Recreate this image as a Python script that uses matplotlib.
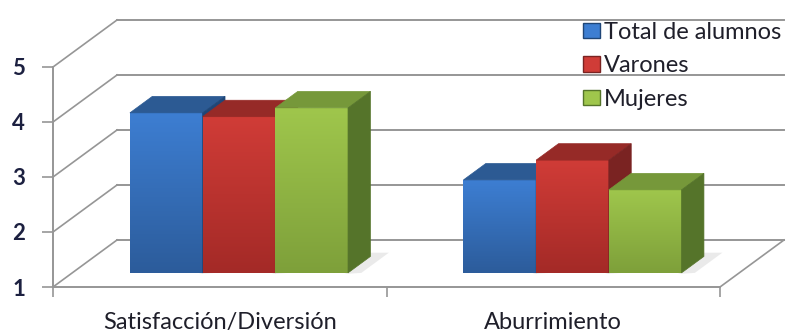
import numpy as np
import matplotlib.pyplot as plt
from matplotlib.patches import Polygon, Patch

plt.rcParams['font.family'] = ['Lato', 'DejaVu Sans']

categories = ["Satisfacción/Diversión", "Aburrimiento"]
series = ["Total de alumnos", "Varones", "Mujeres"]
total = [3.91, 2.69]
varones = [3.84, 3.05]
mujeres = [4.00, 2.51]
values = [total, varones, mujeres]
yticks = [1, 2, 3, 4, 5]

# colours: front top, front bottom, top face, side face
colors = [
    ("#3d7ed2", "#2c5c9b", "#2c5a93", "#1f4677"),
    ("#d03c37", "#a42a27", "#962a27", "#7a2322"),
    ("#9fc64c", "#7ea03a", "#76983a", "#55742a"),
]

# oblique projection: depth d in [0, 1]
DX, DY = 0.192, 0.855


def proj(x, v, d):
    return (x + DX * d, v + DY * d)


fig = plt.figure(figsize=(7.9, 3.33), dpi=100)
ax = fig.add_axes([0, 0, 1, 1])
ax.set_facecolor("white")

grid_c = "#969696"
# back wall and left wall gridlines
for v in yticks:
    p0 = proj(0, v, 1)
    p1 = proj(2, v, 1)
    ax.plot([p0[0], p1[0]], [p0[1], p1[1]], color=grid_c, lw=1.4, zorder=1)
    q0 = proj(0, v, 0)
    ax.plot([q0[0], p0[0]], [q0[1], p0[1]], color=grid_c, lw=1.2, zorder=1)
# floor right edge
r0 = proj(2, 1, 0)
r1 = proj(2, 1, 1)
ax.plot([r0[0], r1[0]], [r0[1], r1[1]], color=grid_c, lw=1.2, zorder=1)

w = 0.218
d0, d1 = 0.30, 0.65
z = 3
for ci in range(len(categories)):
    for si in range(len(series)):
        val = values[si][ci]
        x0 = ci + 0.5 - 1.5 * w + si * w
        ftop, fbot, ctop, cside = colors[si]
        # soft shadow on floor
        sh = [proj(x0 + w, 1, d0 - 0.02), proj(x0 + w + 0.04, 1, d0),
              proj(x0 + w + 0.04, 1, d1 + 0.08), proj(x0 + 0.02, 1, d1 + 0.08),
              proj(x0, 1, d1)]
        ax.add_patch(Polygon(sh, closed=True, facecolor="#e2e2e2", edgecolor="none",
                             alpha=0.7, zorder=2))
        # front face with vertical gradient
        fx0, fy0 = proj(x0, 1, d0)
        fx1, fy1 = proj(x0 + w, val, d0)
        c1 = np.array(plt.matplotlib.colors.to_rgb(ftop))
        c2 = np.array(plt.matplotlib.colors.to_rgb(fbot))
        t = np.linspace(0, 1, 64)[:, None]
        grad = (c1 * (1 - t) + c2 * t)[:, None, :]
        ax.imshow(grad, extent=(fx0, fx1, fy0, fy1), origin="upper",
                  aspect="auto", zorder=z, interpolation="bilinear")
        # top face
        top = [proj(x0, val, d0), proj(x0 + w, val, d0),
               proj(x0 + w, val, d1), proj(x0, val, d1)]
        ax.add_patch(Polygon(top, closed=True, facecolor=ctop, edgecolor=ctop,
                             lw=0.5, zorder=z))
        # side face
        side = [proj(x0 + w, 1, d0), proj(x0 + w, 1, d1),
                proj(x0 + w, val, d1), proj(x0 + w, val, d0)]
        ax.add_patch(Polygon(side, closed=True, facecolor=cside, edgecolor=cside,
                             lw=0.5, zorder=z))
        z += 1

# axes limits so that pixel mapping matches the reference
ax.set_xlim(-53 / 333.5, (790 - 53) / 333.5)
ax.set_ylim(1 - 46 / 55, 1 + 287 / 55)

for s in ["top", "right"]:
    ax.spines[s].set_visible(False)
ax.spines["left"].set_position(("data", 0))
ax.spines["bottom"].set_position(("data", 1))
ax.spines["left"].set_bounds(1, 5)
ax.spines["bottom"].set_bounds(0, 2)
for s in ["left", "bottom"]:
    ax.spines[s].set_color(grid_c)
    ax.spines[s].set_linewidth(1.4)

ax.set_yticks(yticks)
ax.set_yticklabels([str(v) for v in yticks], fontsize=16, fontweight="bold",
                   color="#1c2040")
ax.tick_params(axis="y", length=8, width=1.2, color=grid_c, pad=12)

ax.set_xticks([0, 1, 2])
ax.set_xticklabels([])
ax.set_xticks([0.5, 1.5], minor=True)
ax.set_xticklabels(categories, minor=True, fontsize=17, color="#1f1f2a")
ax.tick_params(axis="x", which="major", length=7, width=1.2, color=grid_c)
ax.tick_params(axis="x", which="minor", length=0, pad=18)

handles = [Patch(facecolor=c[0], edgecolor=c[3]) for c in colors]
ax.legend(handles, series, loc="upper left", bbox_to_anchor=(583 / 790, 1 - 22 / 333),
          frameon=False, fontsize=17, handlelength=0.72, handleheight=0.62,
          handletextpad=0.15, labelspacing=0.52, borderpad=0, borderaxespad=0,
          labelcolor="#1f1f2a")

fig.savefig("out.png", dpi=100)
